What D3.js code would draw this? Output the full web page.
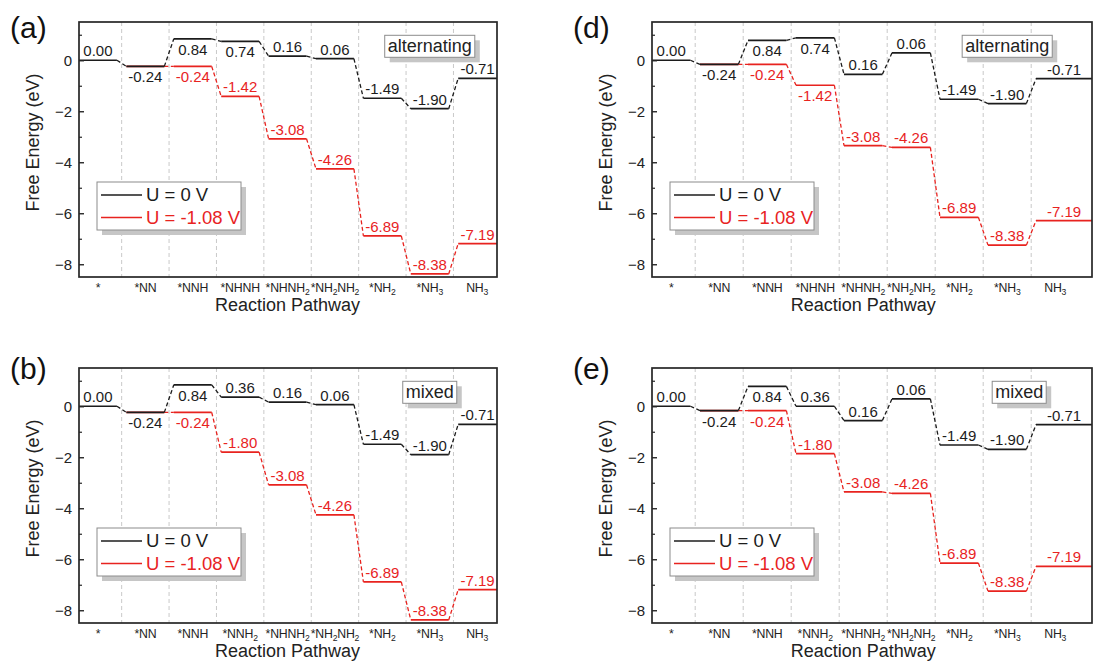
<!DOCTYPE html>
<html lang="en">
<head>
<meta charset="UTF-8">
<title>Free energy diagrams</title>
<script src="https://d3js.org/d3.v7.min.js"></script>
<style>
  body { margin: 0; background: #fff; }
  svg { display: block; font-family: "Liberation Sans", Arial, sans-serif; }
</style>
</head>
<body>
<div id="chart"></div>
<script>
// reaction steps
const stepsAlt = ["*", "*NN", "*NNH", "*NHNH", "*NHNH2", "*NH2NH2", "*NH2", "*NH3", "NH3"];
const stepsMix = ["*", "*NN", "*NNH", "*NNH2", "*NHNH2", "*NH2NH2", "*NH2", "*NH3", "NH3"];

// numbers printed on the levels
const textAlt0 = ["0.00", "-0.24", "0.84", "0.74", "0.16", "0.06", "-1.49", "-1.90", "-0.71"];
const textAltU = [null, null, "-0.24", "-1.42", "-3.08", "-4.26", "-6.89", "-8.38", "-7.19"];
const textMix0 = ["0.00", "-0.24", "0.84", "0.36", "0.16", "0.06", "-1.49", "-1.90", "-0.71"];
const textMixU = [null, null, "-0.24", "-1.80", "-3.08", "-4.26", "-6.89", "-8.38", "-7.19"];

// level heights as drawn (eV)
const levelsA0 = [0, -0.24, 0.84, 0.74, 0.16, 0.06, -1.49, -1.90, -0.71];
const levelsAU = [null, -0.24, -0.24, -1.42, -3.08, -4.26, -6.89, -8.38, -7.19];
const levelsB0 = [0, -0.24, 0.84, 0.36, 0.16, 0.06, -1.49, -1.90, -0.71];
const levelsBU = [null, -0.24, -0.24, -1.80, -3.08, -4.26, -6.89, -8.38, -7.19];
const levelsD0 = [0, -0.16, 0.78, 0.88, -0.55, 0.29, -1.53, -1.70, -0.72];
const levelsDU = [null, -0.16, -0.16, -0.98, -3.35, -3.42, -6.16, -7.25, -6.29];
const levelsE0 = [0, -0.17, 0.78, 0.0, -0.56, 0.29, -1.52, -1.69, -0.72];
const levelsEU = [null, -0.17, -0.17, -1.86, -3.36, -3.42, -6.15, -7.25, -6.28];

// where each number sits: u = above the level, d = below
const sideA0 = "uddduuuuu".split("");
const sideAU = "--duuuuuu".split("");
const sideB0 = "udduuuuuu".split("");
const sideBU = "--duuuuuu".split("");
const sideD0 = "uddduuuuu".split("");
const sideDU = "--dduuuuu".split("");

const yMajor = [0, -2, -4, -6, -8];
const yMinor = [1, -1, -3, -5, -7];
const legendNames = ["U = 0 V", "U = -1.08 V"];

const BLACK = "#1c1c1c", RED = "#e8231f";
const W = 1094, H = 664, PH = 255;

const panels = [
  { tag: "(a)", note: "alternating", steps: stepsAlt, l0: levelsA0, lU: levelsAU, t0: textAlt0, tU: textAltU, s0: sideA0, sU: sideAU,
    left: 79, top: 22, step: 47.4, right: 497, tagX: 10, tagY: 38, noteAt: 7 },
  { tag: "(b)", note: "mixed", steps: stepsMix, l0: levelsB0, lU: levelsBU, t0: textMix0, tU: textMixU, s0: sideB0, sU: sideBU,
    left: 79, top: 368, step: 47.4, right: 497, tagX: 10, tagY: 379, noteAt: 7 },
  { tag: "(d)", note: "alternating", steps: stepsAlt, l0: levelsD0, lU: levelsDU, t0: textAlt0, tU: textAltU, s0: sideD0, sU: sideDU,
    left: 652, top: 22, step: 48, right: 1092, tagX: 573, tagY: 38, noteAt: 7 },
  { tag: "(e)", note: "mixed", steps: stepsMix, l0: levelsE0, lU: levelsEU, t0: textMix0, tU: textMixU, s0: sideB0, sU: sideBU,
    left: 652, top: 368, step: 48, right: 1092, tagX: 573, tagY: 379, noteAt: 7.25 }
];

const svg = d3.select("#chart").append("svg")
  .attr("width", W).attr("height", H);

// split "*NH2NH2" into text pieces with subscript digits
function addChem(sel, label) {
  label.split(/(\d+)/).filter(s => s !== "").forEach(part => {
    const isNum = /^\d+$/.test(part);
    const t = sel.append("tspan").text(part);
    if (isNum) t.attr("font-size", "0.7em").attr("dy", 3);
    else if (sel.selectAll("tspan").size() > 1) t.attr("dy", -3);
  });
}

function drawPanel(p) {
  const bottom = p.top + PH;
  const x = d3.scaleLinear().domain([-0.4, 8.4]).range([p.left, p.left + 8.8 * p.step]);
  const y = d3.scaleLinear().domain([-8.5, 1.5]).range([bottom, p.top]);
  const g = svg.append("g");
  const n = p.steps.length;

  // column separators
  g.selectAll("line.sep").data(d3.range(n - 1)).join("line")
    .attr("class", "sep")
    .attr("x1", i => x(i + 0.5)).attr("x2", i => x(i + 0.5))
    .attr("y1", p.top).attr("y2", bottom)
    .attr("stroke", "#c9c9c9").attr("stroke-width", 1).attr("stroke-dasharray", "4,3");

  const xStart = i => i === 0 ? p.left : x(i - 0.4);
  const xEnd = i => i === n - 1 ? p.right : x(i + 0.4);

  function series(vals, color) {
    const links = d3.range(n - 1).filter(i => vals[i] != null && vals[i + 1] != null);
    g.selectAll(null).data(links).join("line")
      .attr("x1", i => x(i + 0.4)).attr("y1", i => y(vals[i]))
      .attr("x2", i => x(i + 0.6)).attr("y2", i => y(vals[i + 1]))
      .attr("stroke", color).attr("stroke-width", 1.3).attr("stroke-dasharray", "4,2.5");
    const lv = d3.range(n).filter(i => vals[i] != null);
    g.selectAll(null).data(lv).join("line")
      .attr("x1", xStart).attr("x2", xEnd)
      .attr("y1", i => y(vals[i])).attr("y2", i => y(vals[i]))
      .attr("stroke", color).attr("stroke-width", 1.7);
  }
  series(p.lU, RED);
  series(p.l0, BLACK);

  function numbers(vals, texts, sides, color) {
    const idx = d3.range(n).filter(i => texts[i] != null);
    g.selectAll(null).data(idx).join("text")
      .attr("x", i => (xStart(i) + xEnd(i)) / 2)
      .attr("y", i => sides[i] === "u" ? y(vals[i]) - 4 : y(vals[i]) + 16)
      .attr("text-anchor", "middle").attr("font-size", 15).attr("fill", color)
      .text(i => texts[i]);
  }
  numbers(p.lU, p.tU, p.sU, RED);
  numbers(p.l0, p.t0, p.s0, BLACK);

  // frame
  g.append("rect")
    .attr("x", p.left).attr("y", p.top).attr("width", p.right - p.left).attr("height", PH)
    .attr("fill", "none").attr("stroke", "#262626").attr("stroke-width", 1.7);

  // y axis, ticks pointing inward
  const ax = g.append("g").attr("transform", `translate(${p.left},0)`)
    .call(d3.axisLeft(y).tickValues(yMajor).tickSize(-5).tickPadding(7).tickFormat(d3.format("d")));
  ax.select(".domain").remove();
  ax.selectAll("text").attr("font-size", 15).attr("fill", "#222").attr("font-family", null);
  ax.selectAll("line").attr("stroke", "#262626").attr("stroke-width", 1.4);
  const axm = g.append("g").attr("transform", `translate(${p.left},0)`)
    .call(d3.axisLeft(y).tickValues(yMinor).tickSize(-3).tickFormat(""));
  axm.select(".domain").remove();
  axm.selectAll("line").attr("stroke", "#262626").attr("stroke-width", 1.2);

  // category labels
  p.steps.forEach((s, i) => {
    const t = g.append("text")
      .attr("x", x(i)).attr("y", bottom + 15)
      .attr("text-anchor", "middle").attr("font-size", 12.3).attr("fill", "#222")
      .attr("letter-spacing", -0.2);
    addChem(t, s);
  });

  // axis titles
  g.append("text")
    .attr("x", (x(-0.4) + x(8.4)) / 2).attr("y", bottom + 34)
    .attr("text-anchor", "middle").attr("font-size", 18).attr("fill", "#222")
    .text("Reaction Pathway");
  g.append("text")
    .attr("transform", `translate(${p.left - 40},${p.top + PH / 2 - 7}) rotate(-90)`)
    .attr("text-anchor", "middle").attr("font-size", 18).attr("fill", "#222")
    .text("Free Energy (eV)");

  // panel tag
  g.append("text").attr("x", p.tagX).attr("y", p.tagY)
    .attr("font-size", 30).attr("fill", "#111").text(p.tag);

  // legend
  const bx = p.left + 18, by = p.top + 160, bw = 144, bh = 48;
  g.append("rect").attr("x", bx + 5).attr("y", by + 5).attr("width", bw).attr("height", bh).attr("fill", "#c6c6c6");
  g.append("rect").attr("x", bx).attr("y", by).attr("width", bw).attr("height", bh)
    .attr("fill", "#fff").attr("stroke", "#8c8c8c").attr("stroke-width", 1);
  legendNames.forEach((name, k) => {
    const ry = by + 13 + k * 22.5;
    const c = k === 0 ? BLACK : RED;
    g.append("line").attr("x1", bx + 4).attr("x2", bx + 45).attr("y1", ry).attr("y2", ry)
      .attr("stroke", c).attr("stroke-width", 1.6);
    g.append("text").attr("x", bx + 49).attr("y", ry).attr("dy", "0.35em")
      .attr("font-size", 18.5).attr("fill", c).text(name);
  });

  // mechanism note
  const nt = g.append("text").attr("x", x(p.noteAt)).attr("y", p.top + 24).attr("dy", "0.35em")
    .attr("text-anchor", "middle").attr("font-size", 18).attr("fill", "#222").text(p.note);
  const bb = nt.node().getBBox();
  g.insert("rect", function() { return nt.node(); })
    .attr("x", bb.x - 3 + 5).attr("y", bb.y - 1 + 5).attr("width", bb.width + 6).attr("height", bb.height + 2)
    .attr("fill", "#c6c6c6");
  g.insert("rect", function() { return nt.node(); })
    .attr("x", bb.x - 3).attr("y", bb.y - 1).attr("width", bb.width + 6).attr("height", bb.height + 2)
    .attr("fill", "#fff").attr("stroke", "#8c8c8c").attr("stroke-width", 1);
}

panels.forEach(drawPanel);
</script>
</body>
</html>
